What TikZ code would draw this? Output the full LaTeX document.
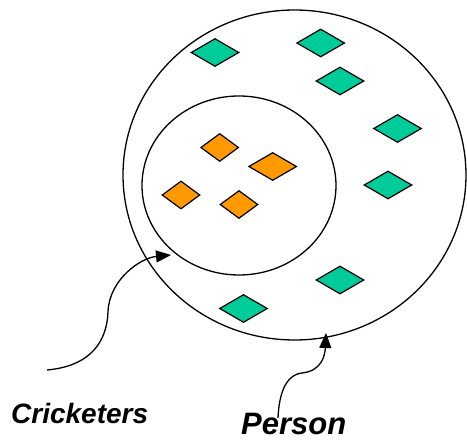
\documentclass[tikz,border=0pt]{standalone}
\usepackage{fontspec}
\setmainfont{Liberation Sans}
\usetikzlibrary{shapes.geometric,arrows.meta}
\definecolor{gem}{HTML}{00CC99}
\definecolor{amber}{HTML}{FF9900}
\tikzset{
  setline/.style={draw=black,line width=1.3pt},
  setring/.style={ellipse,setline,inner sep=0pt},
  gemw/.style={diamond,draw=black,line width=1.2pt,fill=gem,inner sep=0pt,minimum width=48pt,minimum height=28pt},
  ambw/.style={diamond,draw=black,line width=1.2pt,fill=amber,inner sep=0pt,minimum width=38pt,minimum height=28pt},
  label/.style={font=\bfseries\itshape,inner sep=0pt,anchor=base west},
  pointer/.style={line width=1.3pt,-{Triangle[length=15pt,width=12pt]}}
}
\begin{document}
\begin{tikzpicture}[x=1pt,y=-1pt]
\useasboundingbox (0,0) rectangle (467,441);
\node[setring,minimum width=343pt,minimum height=330pt] (outer) at (294.5,175) {};
\node[setring,minimum width=194pt,minimum height=179pt] (inner) at (239,185.5) {};
% green diamonds
\node[gemw] (g1) at (215,52.5) {};
\node[gemw] (g2) at (320.7,43) {};
\node[gemw] (g3) at (340,81) {};
\node[gemw] (g4) at (397.5,128.5) {};
\node[gemw] (g5) at (388,185) {};
\node[gemw] (g6) at (243.5,308.5) {};
\node[gemw] (g7) at (340,280) {};
% orange diamonds
\node[ambw] (o1) at (219.7,147.5) {};
\node[ambw,minimum width=48pt] (o2) at (272.7,166.5) {};
\node[ambw] (o3) at (181,195) {};
\node[ambw] (o4) at (239,204.5) {};
% labels
\node[label,font=\fontsize{28}{30}\selectfont\bfseries\itshape] (crick) at (11,424) {Cricketers};
\node[label,font=\fontsize{31}{33}\selectfont\bfseries\itshape] (person) at (241,435) {Person};
% pointers
\coordinate (ctail) at (47,370);
\coordinate (ctip) at (171,255);
\coordinate (ptail) at (278,418);
\coordinate (ptip) at (326,333);
\draw[pointer] (ctail) .. controls (92,366) and (107,340) .. (108,312)
  .. controls (109,280) and (140,258) .. (ctip);
\draw[pointer] (ptail) .. controls (279,395) and (285,375) .. (302,373)
  .. controls (322,371) and (325,355) .. (ptip);
\end{tikzpicture}
\end{document}
